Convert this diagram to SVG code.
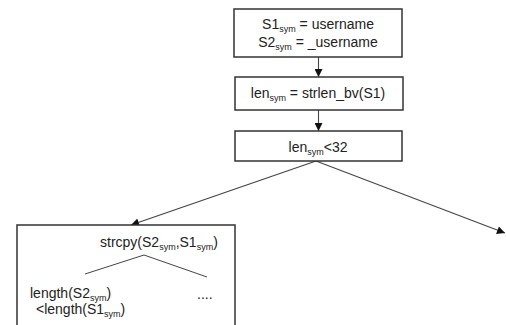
<svg xmlns="http://www.w3.org/2000/svg" width="506" height="325" viewBox="0 0 506 325">
  <defs>
    <marker id="arrow" viewBox="0 0 10 10" refX="10" refY="5" markerWidth="9" markerHeight="8" markerUnits="userSpaceOnUse" orient="auto">
      <path d="M0,0 L10,5 L0,10 Z" fill="#111"/>
    </marker>
    <style>
      .box { fill: #fff; stroke: #333; stroke-width: 1.5; }
      .t { font-family: "Liberation Sans", Arial, sans-serif; font-size: 14px; fill: #222; }
      .sub { font-size: 9px; }
      .edge { fill: none; stroke: #444; stroke-width: 1.1; }
      .tree { fill: none; stroke: #444; stroke-width: 1; }
    </style>
  </defs>
  <rect width="506" height="325" fill="#fff"/>

  <g id="connectors">
    <line class="edge" x1="318.5" y1="57" x2="318.5" y2="77" marker-end="url(#arrow)"/>
    <line class="edge" x1="318.5" y1="110" x2="318.5" y2="131" marker-end="url(#arrow)"/>
    <line class="edge" x1="316" y1="161" x2="131" y2="225" marker-end="url(#arrow)"/>
    <line class="edge" x1="316" y1="161" x2="505" y2="233" marker-end="url(#arrow)"/>
  </g>

  <g id="init">
    <rect class="box" x="234" y="9" width="168" height="48"/>
    <text class="t" x="318" y="29" text-anchor="middle">S1<tspan class="sub" dy="3">sym</tspan><tspan dy="-3"> = username</tspan></text>
    <text class="t" x="318" y="47" text-anchor="middle">S2<tspan class="sub" dy="3">sym</tspan><tspan dy="-3"> = _username</tspan></text>
  </g>

  <g id="strlen">
    <rect class="box" x="235" y="77" width="168" height="33"/>
    <text class="t" x="318" y="98" text-anchor="middle">len<tspan class="sub" dy="3">sym</tspan><tspan dy="-3"> = strlen_bv(S1)</tspan></text>
  </g>

  <g id="cond">
    <rect class="box" x="235" y="131" width="167" height="30"/>
    <text class="t" x="318" y="152" text-anchor="middle">len<tspan class="sub" dy="3">sym</tspan><tspan dy="-3">&lt;32</tspan></text>
  </g>

  <g id="strcpy">
    <rect class="box" x="17" y="225" width="218" height="110"/>
    <text class="t" x="100" y="247">strcpy(S2<tspan class="sub" dy="3">sym</tspan><tspan dy="-3">,S1</tspan><tspan class="sub" dy="3">sym</tspan><tspan dy="-3">)</tspan></text>
    <polyline class="tree" points="85,274 144,255 207,277"/>
    <text class="t" x="30" y="298">length(S2<tspan class="sub" dy="2.5">sym</tspan><tspan dy="-2.5">)</tspan></text>
    <text class="t" x="36" y="314">&lt;length(S1<tspan class="sub" dy="2.5">sym</tspan><tspan dy="-2.5">)</tspan></text>
    <text class="t" x="197" y="299">....</text>
  </g>
</svg>
